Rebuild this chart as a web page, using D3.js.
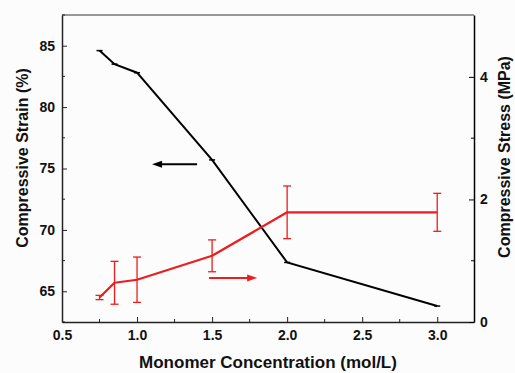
<!DOCTYPE html>
<html>
<head>
<meta charset="utf-8">
<script src="https://cdn.jsdelivr.net/npm/d3@7"></script>
<style>
  html, body { margin: 0; padding: 0; background: #fcfcfc; }
  svg { display: block; font-family: "Liberation Sans", Arial, sans-serif; font-weight: bold; }
</style>
</head>
<body>
<div id="chart"></div>
<script>
// concentrations (mol/L)
const conc = [0.75, 0.85, 1.0, 1.5, 2.0, 3.0];
// compressive strain (%) - black line, left axis
const strain = [84.6, 83.5, 82.8, 75.7, 67.35, 63.8];
// compressive stress (MPa) - red line, right axis
const stress = [0.40, 0.64, 0.69, 1.08, 1.79, 1.79];
const stressErr = [0.035, 0.35, 0.37, 0.26, 0.43, 0.31];

const xTicks = [0.5, 1.0, 1.5, 2.0, 2.5, 3.0];
const leftTicks = [65, 70, 75, 80, 85];
const rightTicks = [0, 2, 4];

// annotation arrows (data coords)
const blackArrow = { x1: 1.40, x2: 1.10, y: 75.35 };
const redArrow = { x1: 1.48, x2: 1.80, y: 0.72 };

const width = 515, height = 373;
const margin = { top: 15, right: 41, bottom: 51, left: 62 };
const innerW = width - margin.left - margin.right;
const innerH = height - margin.top - margin.bottom;

const svg = d3.select("#chart").append("svg")
  .attr("width", width).attr("height", height);

const g = svg.append("g").attr("transform", `translate(${margin.left},${margin.top})`);

// échelles
const x = d3.scaleLinear().domain([0.5, 3.245]).range([0, innerW]);
const yL = d3.scaleLinear().domain([62.5, 87.5]).range([innerH, 0]);
const yR = d3.scaleLinear().domain([0, 5.01]).range([innerH, 0]);

const red = "#ee1c1c";

// cadre du haut
g.append("line").attr("x1", 0).attr("x2", innerW).attr("y1", 0).attr("y2", 0)
  .attr("stroke", "#777").attr("stroke-width", 1.5);

// axes (ticks vers l'intérieur)
function styleAxis(sel, color) {
  sel.select(".domain").attr("stroke", color).attr("stroke-width", 1.5);
  sel.selectAll(".tick line").attr("stroke", color).attr("stroke-width", 1);
  sel.selectAll(".tick text").attr("fill", "#111").attr("font-size", "14px")
    .attr("font-weight", "bold").attr("font-family", "Liberation Sans, Arial, sans-serif");
}

// minor ticks
const xMinor = d3.range(0.75, 3.25, 0.5);
const leftMinor = d3.range(62.5, 87.6, 5);
const rightMinor = [1, 3];

const xAxisG = g.append("g").attr("transform", `translate(0,${innerH})`)
  .call(d3.axisBottom(x).tickValues(xTicks).tickFormat(d3.format(".1f"))
    .tickSizeInner(-5).tickSizeOuter(0).tickPadding(8));
styleAxis(xAxisG, "#222");
xAxisG.selectAll(".minor").data(xMinor).join("line").attr("class", "minor")
  .attr("x1", d => x(d)).attr("x2", d => x(d)).attr("y1", 0).attr("y2", -3)
  .attr("stroke", "#222");

const yLAxisG = g.append("g")
  .call(d3.axisLeft(yL).tickValues(leftTicks).tickSizeInner(-5).tickSizeOuter(0).tickPadding(7));
styleAxis(yLAxisG, "#222");
yLAxisG.selectAll(".minor").data(leftMinor).join("line").attr("class", "minor")
  .attr("y1", d => yL(d)).attr("y2", d => yL(d)).attr("x1", 0).attr("x2", 3)
  .attr("stroke", "#222");

const yRAxisG = g.append("g").attr("transform", `translate(${innerW},0)`)
  .call(d3.axisRight(yR).tickValues(rightTicks).tickFormat(d3.format("d"))
    .tickSizeInner(-5).tickSizeOuter(0).tickPadding(6));
styleAxis(yRAxisG, "#000");
yRAxisG.selectAll(".minor").data(rightMinor).join("line").attr("class", "minor")
  .attr("y1", d => yR(d)).attr("y2", d => yR(d)).attr("x1", 0).attr("x2", -3)
  .attr("stroke", "#000");

// courbe noire (déformation)
const strainData = conc.map((c, i) => ({ c, v: strain[i] }));
g.append("path").datum(strainData)
  .attr("fill", "none").attr("stroke", "#000").attr("stroke-width", 2)
  .attr("d", d3.line().x(d => x(d.c)).y(d => yL(d.v)));
g.append("g").selectAll("line").data(strainData).join("line")
  .attr("x1", d => x(d.c) - 3).attr("x2", d => x(d.c) + 3)
  .attr("y1", d => yL(d.v)).attr("y2", d => yL(d.v))
  .attr("stroke", "#000").attr("stroke-width", 1.5);

// courbe rouge (contrainte)
const stressData = conc.map((c, i) => ({ c, v: stress[i], e: stressErr[i] }));
g.append("path").datum(stressData)
  .attr("fill", "none").attr("stroke", red).attr("stroke-width", 2.2)
  .attr("stroke-linejoin", "round")
  .attr("d", d3.line().x(d => x(d.c)).y(d => yR(d.v)));

// barres d'erreur
const eb = g.append("g").attr("stroke", red).attr("stroke-width", 1.3);
eb.selectAll(".v").data(stressData).join("line").attr("class", "v")
  .attr("x1", d => x(d.c)).attr("x2", d => x(d.c))
  .attr("y1", d => yR(d.v - d.e)).attr("y2", d => yR(d.v + d.e));
eb.selectAll(".t").data(stressData).join("line").attr("class", "t")
  .attr("x1", d => x(d.c) - 4).attr("x2", d => x(d.c) + 4)
  .attr("y1", d => yR(d.v + d.e)).attr("y2", d => yR(d.v + d.e));
eb.selectAll(".b").data(stressData).join("line").attr("class", "b")
  .attr("x1", d => x(d.c) - 4).attr("x2", d => x(d.c) + 4)
  .attr("y1", d => yR(d.v - d.e)).attr("y2", d => yR(d.v - d.e));

// flèches
function arrow(x1, x2, y, color) {
  const dir = Math.sign(x2 - x1);
  g.append("line").attr("x1", x1).attr("x2", x2 - dir * 8).attr("y1", y).attr("y2", y)
    .attr("stroke", color).attr("stroke-width", 2);
  g.append("path")
    .attr("d", `M${x2},${y} L${x2 - dir * 10},${y - 3.5} L${x2 - dir * 10},${y + 3.5} Z`)
    .attr("fill", color);
}
arrow(x(blackArrow.x1), x(blackArrow.x2), yL(blackArrow.y), "#000");
arrow(x(redArrow.x1), x(redArrow.x2), yR(redArrow.y), red);

// titres des axes
svg.append("text").attr("x", 268).attr("y", 368)
  .attr("text-anchor", "middle").attr("font-size", "17px").attr("fill", "#111")
  .text("Monomer Concentration (mol/L)");

svg.append("text").attr("transform", `translate(28,${158}) rotate(-90)`)
  .attr("text-anchor", "middle").attr("font-size", "16px").attr("fill", "#111")
  .text("Compressive Strain (%)");

svg.append("text").attr("transform", `translate(510,${157}) rotate(-90)`)
  .attr("text-anchor", "middle").attr("font-size", "16px").attr("fill", "#111")
  .text("Compressive Stress (MPa)");
</script>
</body>
</html>
